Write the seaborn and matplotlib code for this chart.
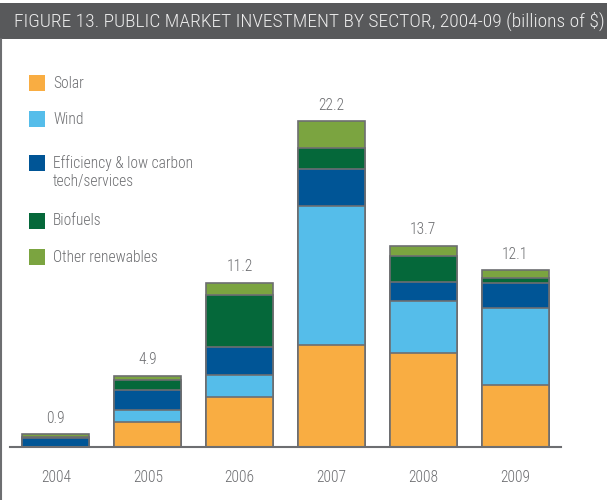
import numpy as np
import pandas as pd
import matplotlib
matplotlib.use("Agg")
import matplotlib.pyplot as plt
import seaborn as sns
from matplotlib.patches import Rectangle
from matplotlib.lines import Line2D

# -----------------------------
# DATA (billions of $)
# -----------------------------
years = ["2004", "2005", "2006", "2007", "2008", "2009"]
solar = [0.03, 1.72, 3.40, 6.94, 6.44, 4.26]
wind = [0.02, 0.84, 1.50, 9.48, 3.54, 5.20]
efficiency = [0.60, 1.32, 1.95, 2.54, 1.29, 1.70]
biofuels = [0.06, 0.68, 3.52, 1.41, 1.75, 0.34]
other = [0.17, 0.31, 0.84, 1.84, 0.70, 0.56]
totals = [0.9, 4.9, 11.2, 22.2, 13.7, 12.1]

sectors = ["Solar", "Wind", "Efficiency & low carbon\ntech/services",
           "Biofuels", "Other renewables"]
colors = ["#f9ad42", "#55bdea", "#005596", "#05683a", "#7ba440"]
title = "FIGURE 13. PUBLIC MARKET INVESTMENT BY SECTOR, 2004-09 (billions of $)"

# long form + cumulative heights for stacking
rows = []
for name, vals in zip(sectors, [solar, wind, efficiency, biofuels, other]):
    for y, v in zip(years, vals):
        rows.append({"year": y, "sector": name, "value": v})
df = pd.DataFrame(rows)
df["cum"] = df.groupby("year")["value"].cumsum()

# -----------------------------
# STYLE
# -----------------------------
sns.set_style("white")
plt.rcParams["font.family"] = ["Roboto Condensed", "DejaVu Sans"]
plt.rcParams["font.stretch"] = "condensed"
plt.rcParams["font.weight"] = "light"
GREY = "#6d6e71"
FS = 11.2

W, H = 607, 500
fig = plt.figure(figsize=(W / 100, H / 100), dpi=100)
ax = fig.add_axes([10 / W, 1 - 447.3 / H, 551 / W, (447.3 - 94.7) / H])

# draw tallest cumulative first, smaller ones on top
for name, c in reversed(list(zip(sectors, colors))):
    sub = df[df["sector"] == name]
    sns.barplot(data=sub, x="year", y="cum", order=years, color=c,
                saturation=1, width=0.73, errorbar=None,
                edgecolor=GREY, linewidth=1.2, ax=ax)

ax.bar_label(ax.containers[0], labels=[f"{t:.1f}" for t in totals],
             padding=6, color=GREY, fontsize=FS)

ax.set_xlim(-0.5, len(years) - 0.5)
ax.set_ylim(0, 24)
ax.set_xlabel("")
ax.set_ylabel("")
ax.set_yticks([])
ax.set_xticks(np.arange(-0.5, len(years), 1), minor=True)
ax.tick_params(axis="x", which="minor", length=10, width=1.5,
               color=GREY, direction="out")
ax.tick_params(axis="x", which="major", length=0, pad=16,
               labelsize=FS, labelcolor=GREY)
for s in ["top", "right", "left"]:
    ax.spines[s].set_visible(False)
ax.spines["bottom"].set_color(GREY)
ax.spines["bottom"].set_linewidth(1.5)

# -----------------------------
# TITLE BAR + BORDER
# -----------------------------
fig.add_artist(Rectangle((0, 1 - 39.3 / H), 1, (39.3 - 2.7) / H,
                         transform=fig.transFigure, color="#58595b", lw=0))
fig.text(14 / W, 1 - 21 / H, title, color="#ededed", fontsize=14, va="center")
fig.add_artist(Line2D([1 / W, 1 / W], [0, 1 - 39.3 / H],
                      transform=fig.transFigure, color=GREY, lw=1.5))

# -----------------------------
# LEGEND
# -----------------------------
centers = [83.3, 119.0, 162.7, 220.7, 257.3]
for name, c, cy in zip(sectors, colors, centers):
    fig.add_artist(Rectangle((29 / W, 1 - (cy + 8) / H), 16 / W, 16 / H,
                             transform=fig.transFigure, color=c, lw=0))
    for i, line in enumerate(name.split("\n")):
        fig.text(53 / W, 1 - (cy + 19 * i) / H, line, color=GREY,
                 fontsize=FS, va="center")

fig.savefig("out.png", dpi=100)
